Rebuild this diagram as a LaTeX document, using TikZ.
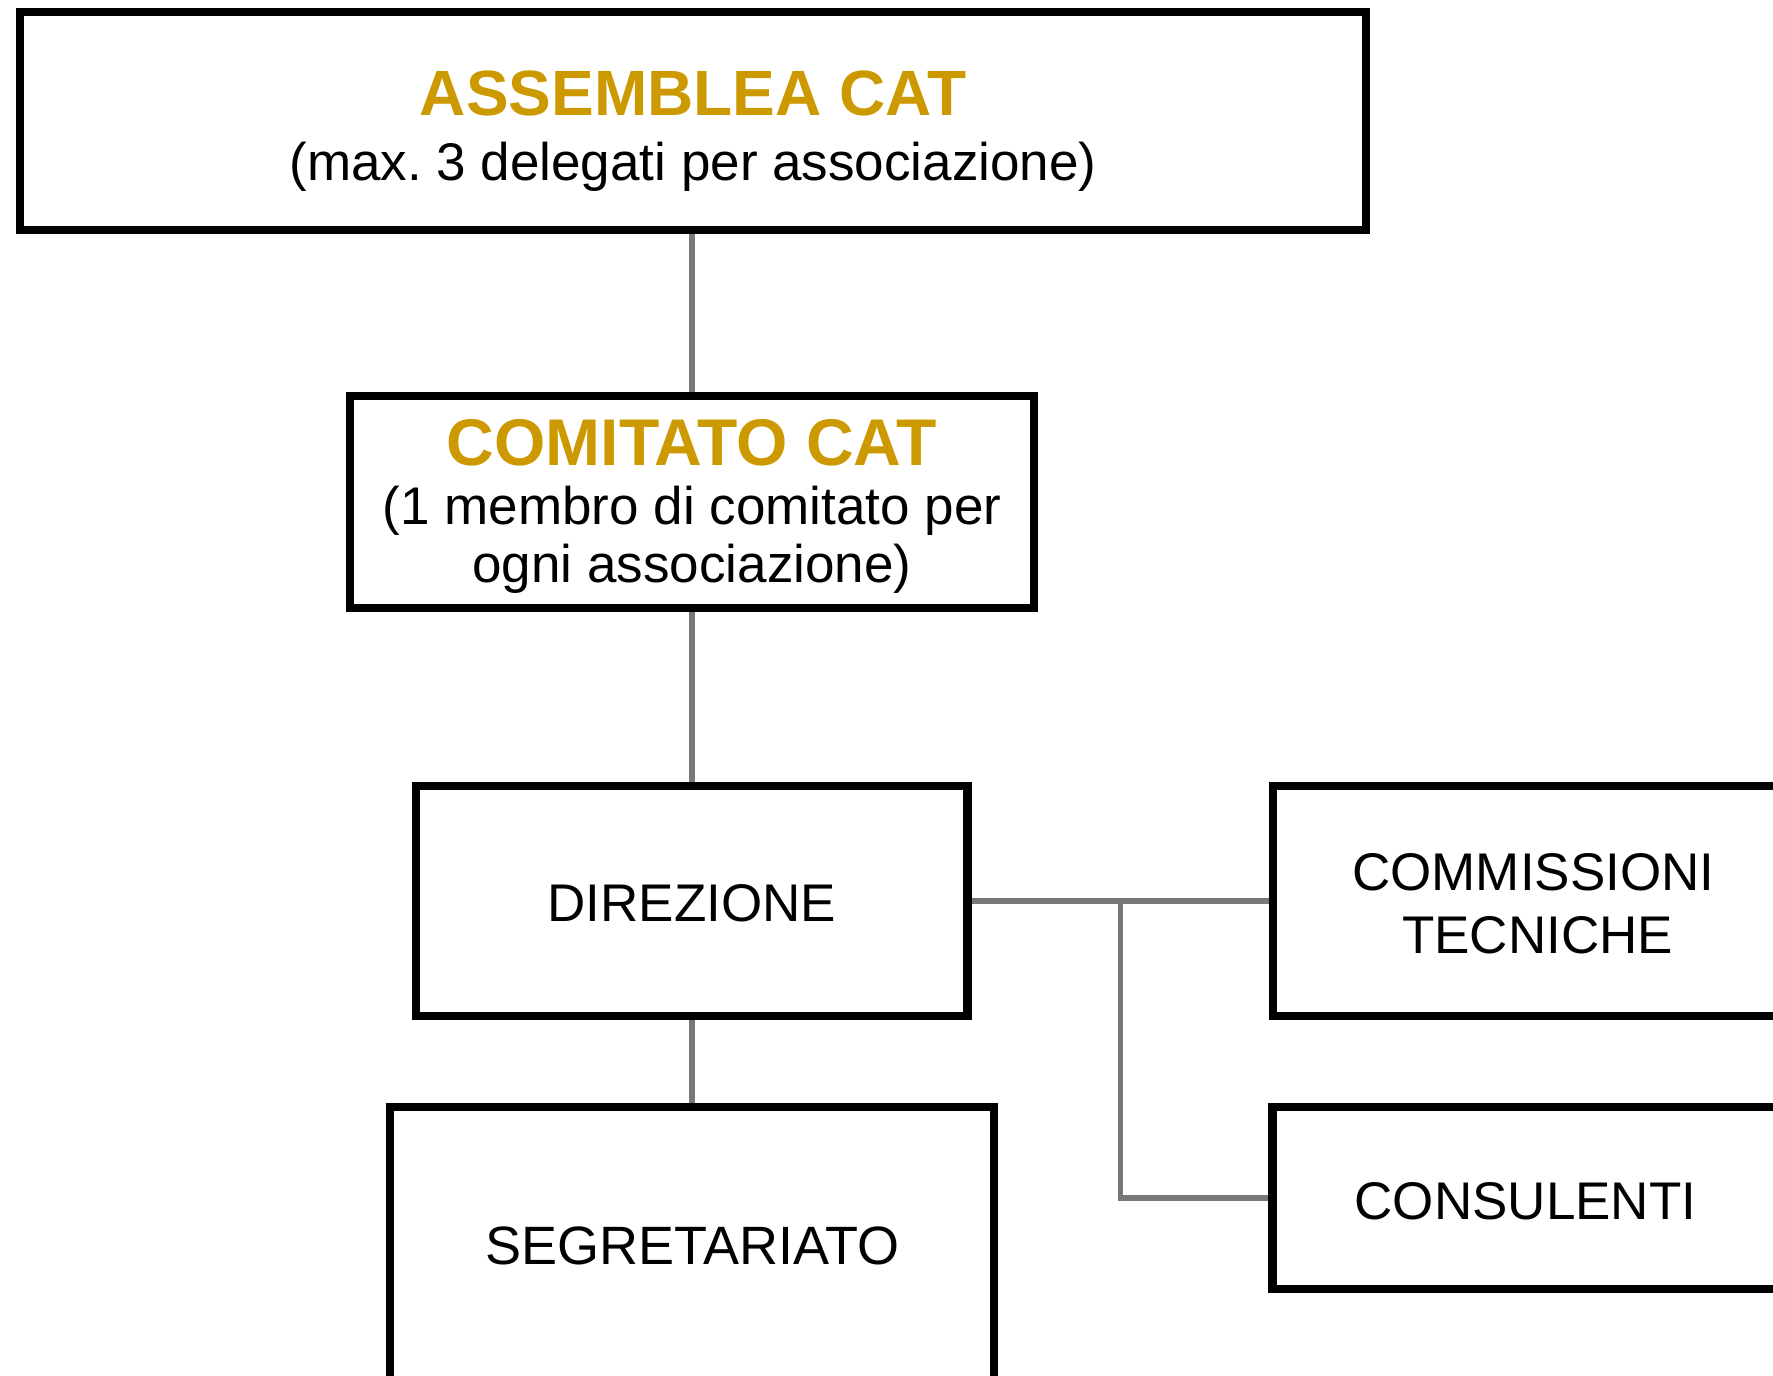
\documentclass[tikz,border=0pt]{standalone}
\usepackage{fontspec}
\setmainfont{Liberation Sans}
\usetikzlibrary{backgrounds}
\definecolor{gold}{RGB}{204,153,0}
\definecolor{linegray}{RGB}{120,120,120}
\frenchspacing
\begin{document}
\begin{tikzpicture}[x=1pt,y=-1pt,
  box/.style={draw=black, line width=8.5pt, rectangle, inner sep=0pt, outer sep=0pt},
  conn/.style={draw=linegray, line width=5.5pt},
  titletext/.style={anchor=base, text=gold, font=\fontsize{64}{70}\selectfont\bfseries, inner sep=0pt},
  bodytext/.style={anchor=base, text=black, font=\fontsize{53}{58}\selectfont, inner sep=0pt}]
\useasboundingbox (0,0) rectangle (1773,1376);
\clip (0,0) rectangle (1773,1376);
% boxes
\node[box, minimum width=1346, minimum height=218] (assem) at (693,121) {};
\node[box, minimum width=684, minimum height=212] (comit) at (692,502) {};
\node[box, minimum width=551.5, minimum height=230] (dir) at (691.75,901) {};
\node[box, minimum width=604, minimum height=274] (segr) at (692,1244) {};
\node[box, minimum width=520, minimum height=230] (comm) at (1533,901) {};
\node[box, minimum width=517, minimum height=182] (cons) at (1531,1198) {};
% texts
\node[titletext] (assemT) at (693,115) {ASSEMBLEA CAT};
\node[bodytext] (assemS) at (693,180) {(max.\ 3 delegati per associazione)};
\node[titletext, font=\fontsize{66}{72}\selectfont\bfseries] (comitT) at (692,465) {COMITATO CAT};
\node[bodytext] (comitS1) at (692,524) {(1 membro di comitato per};
\node[bodytext] (comitS2) at (692,582) {ogni associazione)};
\node[bodytext] (dirT) at (692,921.7) {DIREZIONE};
\node[bodytext, font=\fontsize{54}{59}\selectfont] (segrT) at (692.6,1264) {SEGRETARIATO};
\node[bodytext] (commT1) at (1533.3,890) {COMMISSIONI};
\node[bodytext] (commT2) at (1537.5,953.3) {TECNICHE};
\node[bodytext] (consT) at (1525.5,1219) {CONSULENTI};
% connectors
\coordinate (branch) at (1120.3,901);
\begin{scope}[on background layer]
\draw[conn] (comit.north) -- (comit.north |- assem.south);
\draw[conn] (comit.south) -- (comit.south |- dir.north);
\draw[conn] (segr.north) -- (segr.north |- dir.south);
\draw[conn] (dir.east) -- (comm.west);
\draw[conn] (branch) |- (cons.west);
\end{scope}
\end{tikzpicture}
\end{document}
